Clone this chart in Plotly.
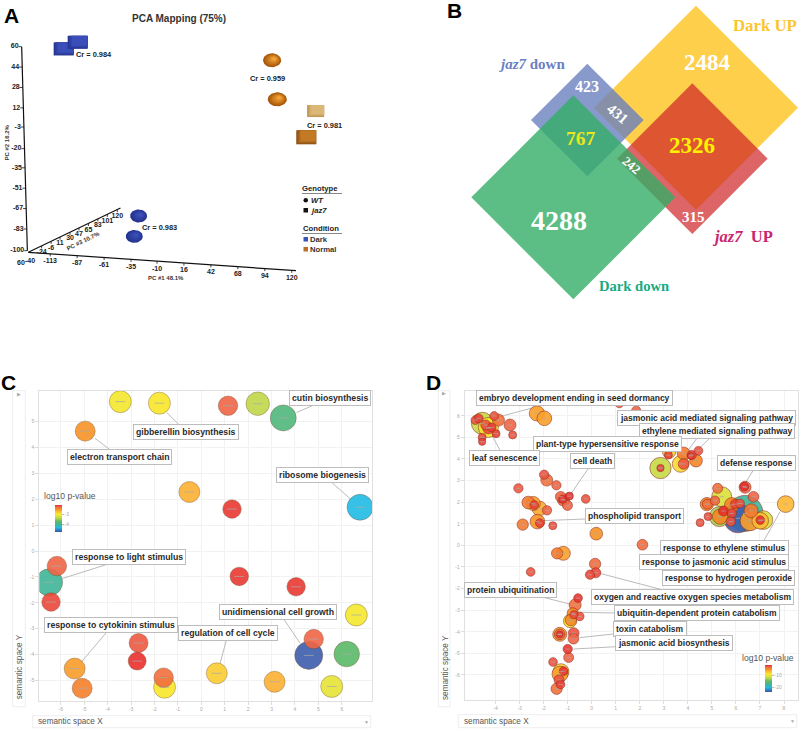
import numpy as np
import plotly.graph_objects as go

W, H = 800, 729
def fx(px): return px / W
def fy(py): return 1 - py / H
SANS = "Liberation Sans"
SERIF = "Liberation Serif"

# ---------- Panel A: PCA
pc1_ticks = [-113, -87, -61, -35, -10, 16, 42, 68, 94, 120]
pc2_ticks = [60, 44, 28, 12, -3, -20, -35, -51, -67, -83, -100]
pc3_ticks = [-24, -6, 11, 30, 47, 65, 83, 101, 120]
pca_x = [-100, -86.5, 101, 106, 143, 134, -27.7, -31.9]
pca_y = [58.2, 63.4, 49.3, 18.7, 9.5, -11.1, -72.8, -88.8]
pca_kind = ["cube", "cube", "sphere", "sphere", "cube", "cube", "sphere", "sphere"]
pca_base = ["#25358f", "#25358f", "#a85a0c", "#a85a0c", "#c09555", "#8a4f12", "#25358f", "#25358f"]
pca_top = ["#3a4db8", "#3a4db8", "#f6a436", "#f6a436", "#dcb878", "#c27a25", "#3c50bc", "#3c50bc"]
pca_w = [20, 20, 18, 19, 17, 20, 17, 17]
pca_h = [13, 13, 14, 14, 12, 14, 13, 13]
cr_text = ["Cr = 0.984", "Cr = 0.959", "Cr = 0.981", "Cr = 0.983"]
cr_x = [-71, 96.5, 152, -7.7]
cr_y = [53.5, 34.9, -1.7, -82]

# ---------- Panel B: Venn
venn_names = ["Dark UP", "jaz7 UP", "jaz7 down", "Dark down"]
venn_cx = [798, 787, 472, 430]
venn_cy = [323, 476, 360, 592]
venn_half = [306, 226, 169, 306]
venn_fill = ["rgba(254,195,30,0.8)", "rgba(206,34,39,0.7)", "rgba(106,127,191,0.8)", "rgba(51,172,102,0.8)"]
venn_counts = ["2484", "2326", "4288", "767", "423", "431", "242", "315"]
venn_tx = [832, 785, 388, 452, 470, 563, 606, 789]
venn_ty = [187, 437, 660, 414, 259, 343, 495, 650]
venn_ts = [23, 23, 28, 19.5, 16, 15, 13, 15]
venn_tc = ["white", "#fff200", "white", "#e8e81a", "white", "white", "white", "white"]
venn_ta = [0, 0, 0, 0, 0, 40, 40, 0]

# ---------- Panel C: REVIGO
c_x = [-3.46, -1.79, 1.14, 2.41, 3.50, -4.96, -0.51, 1.31, 6.78, -6.17, -6.50, -6.42, 1.62, 4.05, 6.62, 4.80, 4.59, 6.21, -2.68, -2.74, -5.41, -1.61, -1.57, -5.09, 0.66, 3.13, 5.57]
c_y = [5.77, 5.71, 5.61, 5.69, 5.14, 4.63, 2.28, 1.62, 1.69, -0.58, -1.21, -1.97, -0.98, -1.38, -2.47, -3.40, -4.03, -3.98, -3.55, -4.25, -4.54, -4.89, -5.26, -5.30, -4.72, -5.05, -5.23]
c_size = [22, 22, 19.5, 23.5, 26, 20, 21, 18.5, 26, 19.5, 27, 18.5, 18.5, 18.5, 22, 19.5, 28, 25.5, 19, 18, 21, 19.5, 22, 20, 21, 21, 22]
c_p = [-3.05, -3.0, -2.3, -3.4, -3.9, -2.55, -2.7, -2.15, -4.35, -2.3, -4.1, -2.2, -2.15, -2.15, -3.05, -2.3, -4.75, -3.75, -2.25, -2.12, -2.6, -2.35, -3.0, -2.45, -2.85, -2.7, -3.15]
c_labels = ["cutin biosynthesis", "gibberellin biosynthesis", "electron transport chain", "ribosome biogenesis", "response to light stimulus", "response to cytokinin stimulus", "regulation of cell cycle", "unidimensional cell growth"]
c_lx = [5.50, -0.66, -3.50, 5.17, -3.08, -3.86, 1.15, 3.26]
c_ly = [5.91, 4.59, 3.64, 2.93, -0.24, -2.87, -3.18, -2.37]
c_link = [(4.07, 5.35, 4.86, 5.66), (-1.48, 5.35, -0.91, 4.84), (-4.54, 4.35, -3.87, 3.89), (5.50, 2.70, 6.35, 2.03),
          (-5.93, -1.06, -3.90, -0.48), (-5.11, -4.27, -4.02, -3.11), (0.80, -4.34, 1.08, -3.41), (3.50, -2.60, 4.22, -3.56)]

# ---------- Panel D: REVIGO
d_x = [-4.55, -4.30, -3.88, -4.84, -4.70, -4.06, -3.40, -4.41, -4.30, -4.16, -3.98, -4.56, -4.56, -3.29, -2.28, -1.97, 1.15, 1.85,
       2.86, 2.86, 3.22, 3.19, 3.82, 3.70, 3.82, 4.34, 4.16, 4.44, 4.12,
       -1.98, -1.87, -3.05, -1.47, -2.64, -2.43, -2.39, -2.18, -1.86, -1.29, -1.18, -1.21, -0.93, -1.01, -0.25, -2.26, -2.16, -2.87, -1.62, 0.19, 2.11,
       6.09, 6.38, 5.41, 5.31, 5.34, 7.14, 7.01, 5.83, 6.59, 6.63, 4.79, 4.81, 5.13, 5.24, 6.38, 6.35, 6.73, 5.97, 6.17, 5.48, 5.83, 5.79, 7.01, 4.51, 4.84, 8.07,
       -1.18, -1.44, -2.54, 0.14, 0.17, -0.07, -0.57, -0.69, -0.79, -0.74, -0.50, -0.90, -0.87, -1.33, -1.33, -1.33, -0.75, -0.76, -1.00, -0.96, -1.61, -1.28, -1.32, -1.17, -1.36, -1.30, -1.46]
d_y = [5.65, 5.46, 5.80, 5.80, 5.88, 5.99, 5.57, 5.57, 5.42, 5.46, 5.17, 5.00, 4.80, 5.11, 6.11, 5.88, 6.57, 6.23,
       3.58, 3.58, 4.34, 4.18, 4.26, 3.77, 3.77, 3.92, 4.18, 4.38, 4.14,
       3.27, 3.02, 2.64, 2.78, 1.98, 1.94, 1.87, 1.71, 1.62, 2.25, 2.10, 2.13, 2.28, 1.85, 2.15, 1.10, 1.03, 0.96, 0.91, 0.54, 0.03,
       1.25, 1.48, 2.25, 1.33, 1.33, 1.17, 1.14, 1.87, 1.14, 1.60, 1.91, 1.91, 2.07, 2.64, 2.69, 2.72, 2.25, 1.91, 1.94, 1.59, 1.48, 1.10, 1.17, 1.05, 1.33, 1.91,
       -0.37, -0.37, -1.23, -0.86, -1.27, -1.36, -2.44, -2.76, -3.15, -3.21, -3.29, -3.50, -3.46, -4.12, -4.12, -4.12, -4.06, -4.32, -4.80, -5.19, -5.40, -5.85, -5.96, -5.82, -6.23, -6.44, -6.64]
d_size = [22, 20, 12, 8.7, 8.7, 8.7, 12, 10, 11.3, 8.7, 8, 8, 7.3, 8, 15.3, 14.7, 8.7, 9.3,
          21.3, 7.3, 13.3, 8, 12.7, 16.7, 10.7, 12.7, 9.3, 8.7, 6.7,
          9.3, 12, 9.3, 9.3, 12.7, 14, 8.7, 14.7, 9.3, 10.7, 12, 8, 8, 10, 8.7, 14.7, 8.7, 11.3, 8, 12.7, 10.7,
          29, 36, 20, 20, 15.3, 18.7, 16.7, 14.7, 20, 14, 13.3, 10, 9.3, 10, 12, 8.7, 10.7, 9.3, 8.7, 10, 9.3, 9.3, 8.7, 8, 8, 16.7,
          14, 11.3, 8.7, 11.3, 10, 9.3, 8.7, 12, 11.3, 8, 8.7, 13.3, 11.3, 14, 10.7, 6.7, 10.7, 10.7, 9.3, 10, 8.7, 16, 16, 8.7, 10, 8.7, 11.3]
d_p = [-12, -9, -4, -3, -2.5, -3, -3.5, -3, -2.8, -2.5, -2.5, -2.8, -2.6, -3, -6, -6, -3.5, -3.5,
       -12, -2.5, -8, -2.5, -4.5, -8.5, -3, -5, -2.5, -3, -2.5,
       -3, -4, -3.2, -3.5, -4.5, -6, -2.5, -6.5, -3.5, -3.5, -3.5, -2.2, -2.2, -3.5, -3, -5.5, -2.5, -4.5, -3, -5.5, -3.8,
       -23, -18, -11, -13, -5, -11, -7, -5, -6, -4.5, -5, -4, -3.5, -4, -3.5, -2, -3.5, -2.5, -3, -2, -2.7, -3, -2, -3, -3, -7,
       -6, -4.5, -3, -3.8, -2.8, -2.7, -2.2, -4, -5, -2.8, -3, -9, -5, -6, -3.5, -2.2, -3, -3.5, -2.2, -3.5, -3, -8.5, -6, -2.2, -3, -2.5, -4]
d_labels = ["embryo development ending in seed dormancy", "jasmonic acid mediated signaling pathway", "ethylene mediated signaling pathway",
            "plant-type hypersensitive response", "leaf senescence", "cell death", "defense response", "phospholipid transport",
            "response to ethylene stimulus", "response to jasmonic acid stimulus", "response to hydrogen peroxide",
            "oxygen and reactive oxygen species metabolism", "protein ubiquitination", "ubiquitin-dependent protein catabolism",
            "toxin catabolism", "jasmonic acid biosynthesis"]
d_lx = [-0.72, 4.76, 5.23, 0.67, -3.62, 0.03, 6.84, 1.78, 5.52, 5.09, 5.67, 4.19, -3.36, 4.37, 2.41, 3.44]
d_ly = [6.84, 5.91, 5.31, 4.71, 4.03, 3.90, 3.80, 1.37, -0.14, -0.79, -1.51, -2.39, -2.05, -3.13, -3.86, -4.54]
d_link = [(-3.82, 5.96, -1.87, 6.54), (4.02, 4.41, 4.37, 4.95), (4.48, 4.49, 4.97, 5.03), (3.19, 4.23, 2.91, 4.41),
          (-4.16, 5.11, -3.77, 4.31), (-0.90, 2.33, -0.14, 3.56), (6.38, 2.87, 6.73, 3.49), (-2.15, 1.14, -0.28, 1.22),
          (7.84, 1.56, 7.14, 0.17), (0.35, -1.30, 3.12, -2.11), (-2.29, -2.33, -0.90, -2.72), (-0.49, -3.10, 0.93, -3.13),
          (-0.49, -4.27, 0.93, -4.10), (-0.76, -4.80, 1.04, -4.69)]

palette = [[0, "#3f51a5"], [.17, "#20bde6"], [.26, "#3fb597"], [.4, "#5fba66"], [.52, "#c2d84a"], [.66, "#f9ea2a"],
           [.76, "#fdbb36"], [.85, "#f78a22"], [.93, "#f06448"], [1, "#e82a2a"]]

fig = go.Figure()
annotations, shapes = [], []

def note(text, px, py, size=7, color="#222", family=SANS, angle=0, xanchor="center"):
    annotations.append(dict(text=text, x=fx(px), y=fy(py), xref="paper", yref="paper", showarrow=False,
                            font=dict(size=size, color=color, family=family), textangle=angle, xanchor=xanchor, yanchor="middle"))

# ---------- Panel A drawing (axes x / y: projected PC1, PC2)
AX = "x"; AY = "y"
PXU, PYU = 3.11 / 3, 3.825 / 3   # pixels per axis unit

def pc1_line_y(v):
    return -101.3 + (v + 134.1) * (-115.7 + 101.3) / (124.1 + 134.1)
def pc2_line_x(v):
    return -135 + (v + 100) * (-140.5 + 135) / 160
def pc3_point(v):
    return -134.1 + (v + 49.4) * 0.5068, -101.3 + (v + 49.4) * 0.1978

axis_style = dict(mode="lines", line=dict(color="#111", width=1.2), hoverinfo="skip", showlegend=False, xaxis=AX, yaxis=AY)
fig.add_trace(go.Scatter(x=[-134.1, 124.1], y=[-101.3, -115.7], **axis_style))
fig.add_trace(go.Scatter(x=[pc2_line_x(60), pc2_line_x(-100)], y=[60, -100], **axis_style))
fig.add_trace(go.Scatter(x=[pc3_point(-49.4)[0], pc3_point(126)[0]], y=[pc3_point(-49.4)[1], pc3_point(126)[1]], **axis_style))

tx, ty = [], []
for v in pc1_ticks:
    tx += [v, v, None]; ty += [pc1_line_y(v), pc1_line_y(v) - 2, None]
for v in pc2_ticks:
    tx += [pc2_line_x(v), pc2_line_x(v) - 3, None]; ty += [v, v, None]
for v in pc3_ticks:
    px_, py_ = pc3_point(v)
    tx += [px_, px_, None]; ty += [py_, py_ - 2, None]
fig.add_trace(go.Scatter(x=tx, y=ty, mode="lines", line=dict(color="#111", width=0.8), hoverinfo="skip", showlegend=False, xaxis=AX, yaxis=AY))

tick_font = dict(size=7, color="#222", family=SANS, weight="bold")
fig.add_trace(go.Scatter(x=pc1_ticks, y=[pc1_line_y(v) - 6 for v in pc1_ticks], text=[str(v) for v in pc1_ticks], mode="text",
                         textfont=tick_font, hoverinfo="skip", showlegend=False, xaxis=AX, yaxis=AY))
fig.add_trace(go.Scatter(x=[pc2_line_x(v) - 3 for v in pc2_ticks], y=pc2_ticks, text=[str(v) for v in pc2_ticks], mode="text",
                         textposition="middle left", textfont=tick_font, hoverinfo="skip", showlegend=False, xaxis=AX, yaxis=AY))
fig.add_trace(go.Scatter(x=[pc3_point(v)[0] for v in pc3_ticks], y=[pc3_point(v)[1] - 5 for v in pc3_ticks], text=[str(v) for v in pc3_ticks], mode="text",
                         textfont=tick_font, hoverinfo="skip", showlegend=False, xaxis=AX, yaxis=AY))

def blob(cx, cy, w, h, kind):
    if kind == "sphere":
        t = np.linspace(0, 2 * np.pi, 48)
        return cx + (w / 2 / PXU) * np.cos(t), cy + (h / 2 / PYU) * np.sin(t)
    a, b = w / 2 / PXU, h / 2 / PYU
    return np.array([cx - a, cx + a, cx + a, cx - a, cx - a]), np.array([cy - b, cy - b, cy + b, cy + b, cy - b])

def mix(c1, c2, f):
    a = [int(c1[i:i + 2], 16) for i in (1, 3, 5)]
    b = [int(c2[i:i + 2], 16) for i in (1, 3, 5)]
    return "rgb(%d,%d,%d)" % tuple(round(p + (q - p) * f) for p, q in zip(a, b))

LAYERS = 6
for i in range(len(pca_x)):
    for k in range(LAYERS):
        f = k / (LAYERS - 1)
        shrink = 1 - 0.8 * f if pca_kind[i] == "sphere" else 1 - 0.25 * f
        off_x = 2.0 * f
        off_y = 1.2 * f
        bx, by = blob(pca_x[i] + off_x, pca_y[i] + off_y, pca_w[i] * shrink, pca_h[i] * shrink, pca_kind[i])
        col = mix(pca_base[i], pca_top[i], f)
        fig.add_trace(go.Scatter(x=bx, y=by, fill="toself", fillcolor=col, mode="lines", line=dict(width=0, color=col),
                                 hoverinfo="skip", showlegend=False, xaxis=AX, yaxis=AY))
for t, x_, y_ in zip(cr_text, cr_x, cr_y):
    annotations.append(dict(text="<b>%s</b>" % t, x=x_, y=y_, xref=AX, yref=AY, showarrow=False, font=dict(size=7.4, color="#222", family=SANS)))

note("<b>PCA Mapping (75%)</b>", 179, 18, size=10, color="#333")
note("<b>PC #1 48.1%</b>", 165.5, 277.5, size=6, color="#333")
note("<b>PC #2 16.2%</b>", 6.5, 143, size=6, color="#333", angle=-90)
note("<b>PC #3 10.7%</b>", 83, 240.5, size=6, color="#333", angle=-26)
note("<b>60</b>", 21, 262, size=7)
note("<b>-40</b>", 30, 260.5, size=7)
note("<b>Genotype</b>", 320, 188.5, size=7.7)
note("<b><i>WT</i></b>", 317, 200, size=7.7)
note("<b><i>jaz7</i></b>", 318.5, 210.5, size=7.7)
note("<b>Condition</b>", 320.5, 228.5, size=7.7)
note("<b>Dark</b>", 318.5, 239, size=7.7, color="#333")
note("<b>Normal</b>", 323, 249.5, size=7.7, color="#333")

def rect_px(x0, y0, x1, y1, fill=None, line="#e6e6e6", width=1, kind="rect"):
    shapes.append(dict(type=kind, xref="paper", yref="paper", x0=fx(x0), x1=fx(x1), y0=fy(y0), y1=fy(y1),
                       fillcolor=fill if fill else "rgba(0,0,0,0)", line=dict(color=line, width=width), layer="below"))

def line_px(x0, y0, x1, y1, color="#999", width=1):
    shapes.append(dict(type="line", xref="paper", yref="paper", x0=fx(x0), x1=fx(x1), y0=fy(y0), y1=fy(y1), line=dict(color=color, width=width)))

line_px(302, 193.5, 342, 193.5, "#888", 1)
line_px(302, 233.5, 342, 233.5, "#888", 1)
rect_px(303.5, 198, 308, 202.5, "#111", "#111", 0, "circle")
rect_px(303.5, 208, 308, 212.5, "#111", "#111", 0)
rect_px(303.5, 237, 308, 241.5, "#3b55b5", "#3b55b5", 0)
rect_px(303.5, 247, 308, 251.5, "#b8702a", "#b8702a", 0)

# ---------- Panel B drawing (axes x2 / y2)
for name, cx, cy, hw, fill in zip(venn_names, venn_cx, venn_cy, venn_half, venn_fill):
    fig.add_trace(go.Scatter(x=[cx, cx + hw, cx, cx - hw, cx], y=[cy - hw, cy, cy + hw, cy, cy - hw], fill="toself", fillcolor=fill,
                             mode="lines", line=dict(width=0, color=fill), hoverinfo="skip", showlegend=False, name=name, xaxis="x2", yaxis="y2"))
for t, x_, y_, s, c, a in zip(venn_counts, venn_tx, venn_ty, venn_ts, venn_tc, venn_ta):
    annotations.append(dict(text="<b>%s</b>" % t, x=x_, y=y_, xref="x2", yref="y2", showarrow=False, textangle=a,
                            font=dict(size=s, color=c, family=SERIF)))
note("<b>Dark UP</b>", 765, 25.5, size=16.8, color="#fcc52e", family=SERIF)
note("<b><i>jaz7</i> down</b>", 532, 63.5, size=15, color="#6b7fc4", family=SERIF)
note("<b><i>jaz7</i>  UP</b>", 742, 236.5, size=16.5, color="#c9256e", family=SERIF)
note("<b>Dark down</b>", 634, 286, size=14.6, color="#1aaa80", family=SERIF)

# ---------- Panels C, D drawing
def revigo(xs, ys, sizes, ps, ax, ay, cmin, cmax, bar_px, bar_py, bar_ticks, dash, outline):
    order = np.argsort(-np.array(sizes), kind="stable")
    xs_, ys_ = np.array(xs)[order], np.array(ys)[order]
    fig.add_trace(go.Scatter(
        x=xs_, y=ys_, mode="markers", xaxis=ax, yaxis=ay, hoverinfo="skip", showlegend=False,
        marker=dict(size=np.array(sizes)[order], color=np.array(ps)[order], cmin=cmin, cmax=cmax, colorscale=palette, opacity=0.9,
                    line=dict(color=outline, width=1),
                    colorbar=dict(x=fx(bar_px), xanchor="left", y=fy(bar_py), yanchor="top", lenmode="pixels", len=27, thickness=7,
                                  thicknessmode="pixels", xpad=0, ypad=0, outlinewidth=0, ticks="outside", ticklen=2, tickcolor="#bbb",
                                  tickvals=bar_ticks, ticktext=[str(v) for v in bar_ticks], tickfont=dict(size=5, color="#aaa", family=SANS)))))
    fig.add_trace(go.Scatter(x=xs_, y=ys_, mode="markers", xaxis=ax, yaxis=ay, hoverinfo="skip", showlegend=False,
                             marker=dict(symbol="line-ew", size=dash, line=dict(color="rgba(170,170,170,0.9)", width=0.8))))

def links(segs, ax, ay):
    lx, ly = [], []
    for a, b, c, d in segs:
        lx += [a, c, None]; ly += [b, d, None]
    fig.add_trace(go.Scatter(x=lx, y=ly, mode="lines", line=dict(color="#bbb", width=1), hoverinfo="skip", showlegend=False, xaxis=ax, yaxis=ay))

links(c_link, "x3", "y3")
revigo(c_x, c_y, c_size, c_p, "x3", "y3", -4.8, -2.1, 55.3, 505, [-3, -4], 7, "rgba(110,70,40,0.4)")
links(d_link, "x4", "y4")
revigo(d_x, d_y, d_size, d_p, "x4", "y4", -23.5, -1.9, 765, 665, [-10, -20], 3, "rgba(140,40,25,0.6)")

def box_labels(labels, xs, ys, ax, ay, size):
    for t, x_, y_ in zip(labels, xs, ys):
        annotations.append(dict(text="<b>%s</b>" % t, x=x_, y=y_, xref=ax, yref=ay, showarrow=False, bgcolor="white", bordercolor="#bdbdbd",
                                borderwidth=1, borderpad=2, font=dict(size=size, color="#2a2a2a", family=SANS)))
box_labels(c_labels, c_lx, c_ly, "x3", "y3", 8.7)
box_labels(d_labels, d_lx, d_ly, "x4", "y4", 8.5)

# frame decoration for semantic-space headers
rect_px(32.7, 715.7, 370.7, 727.7, None, "#eeeeee")
note("semantic space X", 36, 721.5, size=8.2, color="#555", xanchor="left")
note("▼", 366.3, 721.5, size=5, color="#aaa")
rect_px(12.7, 390.7, 25.3, 706.7, None, "#eeeeee")
note("semantic space Y", 19.3, 667, size=8.2, color="#555", angle=-90)
note("▶", 18.7, 394.3, size=4.5, color="#aaa")
rect_px(458.3, 714.7, 796.7, 727.7, None, "#eeeeee")
note("semantic space X", 461.7, 721, size=8.2, color="#555", xanchor="left")
note("▼", 792, 721, size=5, color="#aaa")
rect_px(438.3, 390.7, 450, 706.7, None, "#eeeeee")
note("semantic space Y", 445, 668, size=8.2, color="#555", angle=-90)
note("▶", 444, 394, size=4.5, color="#aaa")
note("log10 p-value", 70, 495.7, size=8.6, color="#555")
note("log10 p-value", 768, 658, size=8.6, color="#555")

for letter, px_, py_ in [("A", 11.5, 15.5), ("B", 454, 10), ("C", 8.5, 382), ("D", 433.5, 382.5)]:
    note("<b>%s</b>" % letter, px_, py_, size=21, color="#000")

def ticks(vals):
    return dict(tickmode="array", tickvals=vals, ticktext=[str(v) for v in vals])

hidden = dict(visible=False, fixedrange=True)
sem = dict(showgrid=True, gridcolor="#f2f2f2", gridwidth=1, zeroline=False, showline=True, mirror=True, linecolor="#e0e0e0", linewidth=1,
           ticks="outside", ticklen=3, tickcolor="#dddddd", tickfont=dict(size=5, color="#aaaaaa", family=SANS))

fig.update_layout(
    width=W, height=H, margin=dict(l=0, r=0, t=0, b=0, pad=0, autoexpand=False), paper_bgcolor="white", plot_bgcolor="white", showlegend=False,
    annotations=annotations, shapes=shapes,
    xaxis=dict(domain=[0, fx(400)], range=[-161.4, 224.4], anchor="y", **hidden),
    yaxis=dict(domain=[fy(300), 1], range=[-138.7, 96.6], anchor="x", **hidden),
    xaxis2=dict(domain=[fx(430), fx(800)], range=[0, 1110], anchor="y2", **hidden),
    yaxis2=dict(domain=[fy(310), 1], range=[930, 0], anchor="x2", **hidden),
    xaxis3=dict(domain=[fx(39.3), fx(372)], range=[-6.92, 7.29], anchor="y3", **ticks(list(range(-6, 7))), **sem),
    yaxis3=dict(domain=[fy(700.7), fy(391)], range=[-5.78, 6.18], anchor="x3", **ticks(list(range(-5, 6))), **sem),
    xaxis4=dict(domain=[fx(464.7), fx(797.7)], range=[-5.285, 8.57], anchor="y4", **ticks(list(range(-4, 9))), **sem),
    yaxis4=dict(domain=[fy(700), fy(390.7)], range=[-7.16, 7.16], anchor="x4", **ticks(list(range(-6, 7))), **sem),
)

fig.write_html("out.html", config=dict(displayModeBar=False),
               post_script="document.body.style.margin='0';document.body.style.overflow='hidden';")
